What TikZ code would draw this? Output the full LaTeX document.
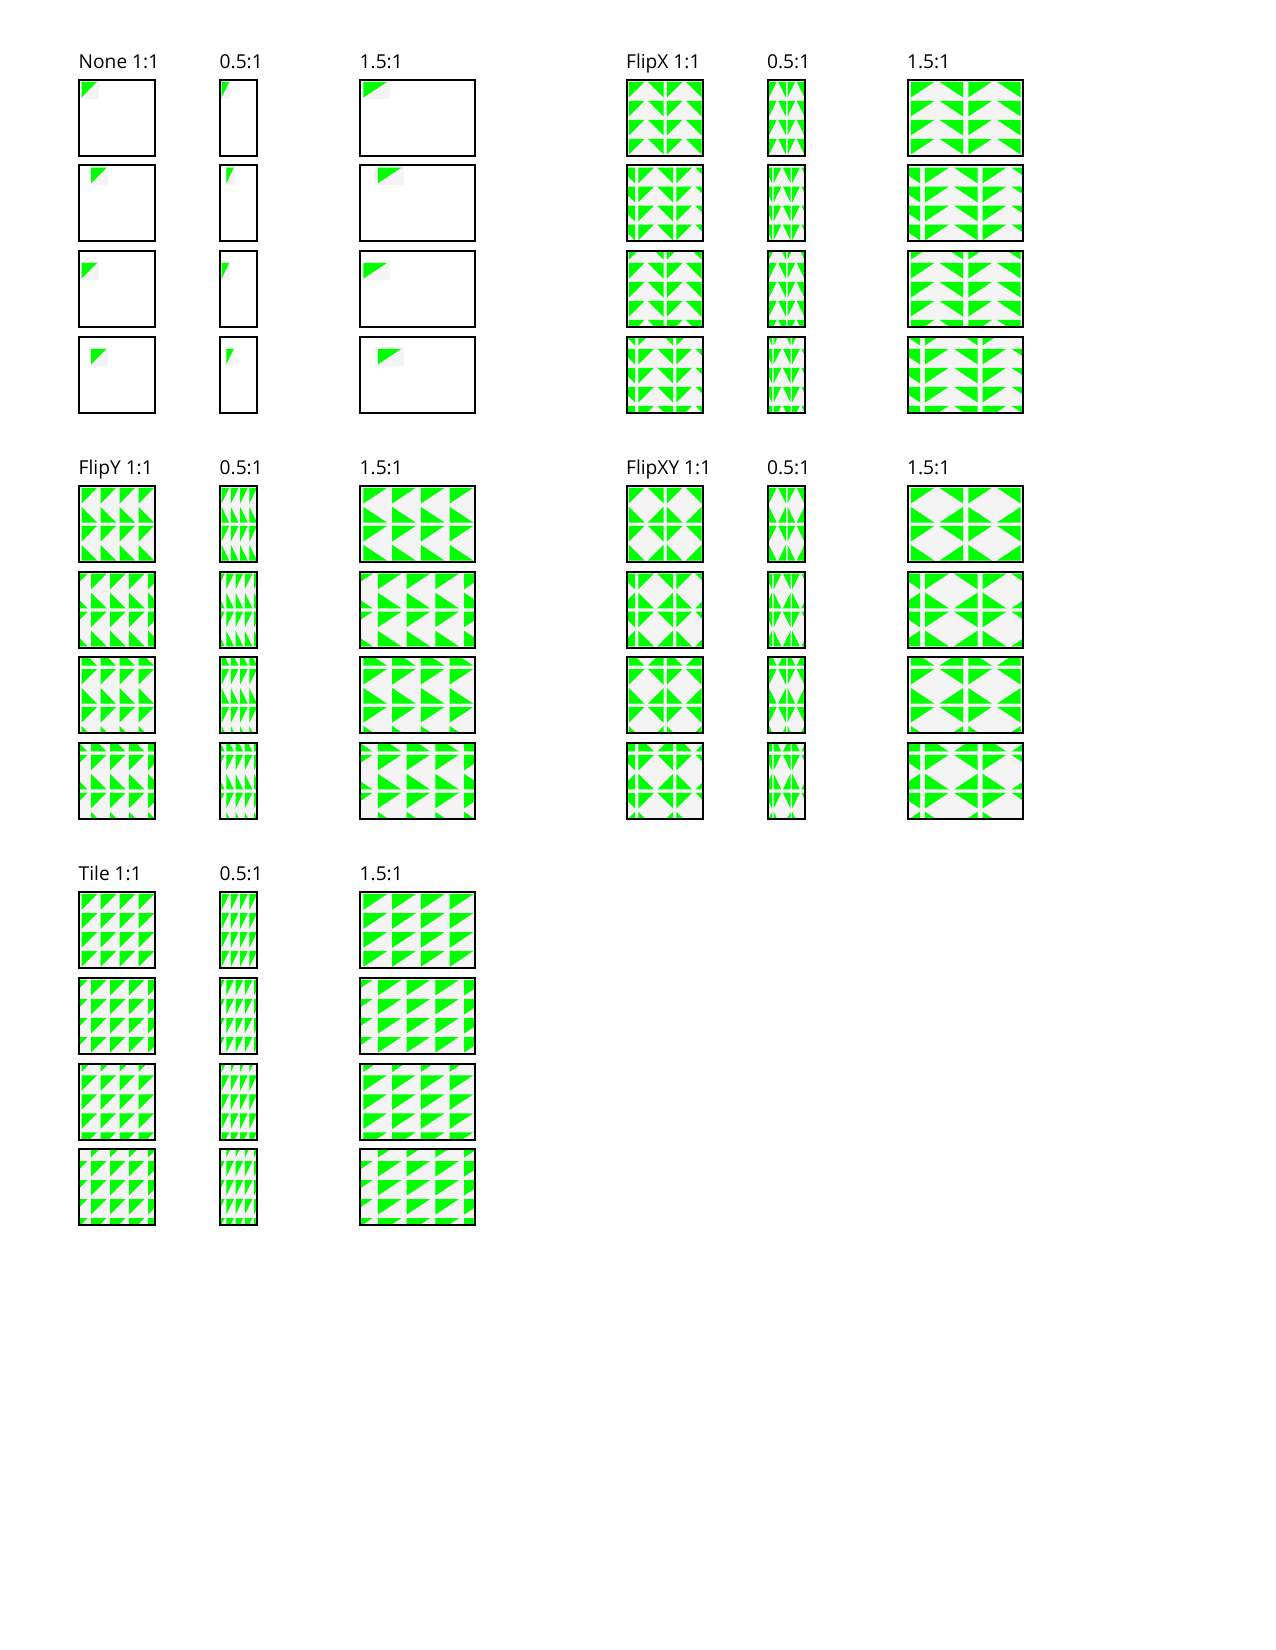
\documentclass[tikz,border=0pt]{standalone}
\usepackage{fontspec}
\setmainfont{Open Sans}
\usetikzlibrary{positioning}
\definecolor{tilegreen}{RGB}{0,255,0}
\definecolor{tilegray}{RGB}{244,244,244}
\tikzset{
  brushlabel/.style={anchor=base west,inner sep=0pt,font=\fontsize{9.2}{11}\selectfont},
  brushframe/.style={draw=black,line width=0.96pt},
  tileback/.style={fill=tilegray},
  tiletri/.style={fill=tilegreen}
}

\begin{document}
\begin{tikzpicture}[x=0.48pt,y=-0.48pt]
  \fill[white] (0,0) rectangle (1275,1650);
  \useasboundingbox (0,0) rectangle (1275,1650);
  %% One group per tile mode
  \foreach \tmode/\gx/\gy/\flx/\fly/\onlyone/\mname in {
      none/78.3/78.7/0/0/1/None, flipx/625.7/78.7/1/0/0/FlipX,
      flipy/78.3/484.7/0/1/0/FlipY, flipxy/625.7/484.7/1/1/0/FlipXY,
      tile/78.3/891/0/0/0/Tile}{
    \ifnum\onlyone=1 \def\irange{0}\else\def\irange{-1,...,4}\fi
    %% Columns: aspect ratios
    \foreach \col/\colx/\bw/\ratio in {0/0/76/1:1, 1/141/37/0.5:1, 2/281/115/1.5:1}{
      \node[brushlabel] (lab-\tmode-\col) at (\gx+\colx,\gy-10.4)
        {\ifnum\col=0 \mname\ \fi\ratio};
      \pgfmathsetmacro\tw{\bw/4}
      %% Rows: origin offsets
      \foreach \r in {0,...,3}{
        \pgfmathsetmacro\bx{\gx+\colx+1}
        \pgfmathsetmacro\by{\gy+\r*85.8+1}
        \pgfmathsetmacro\ox{mod(\r,2)*\tw/2+0.5}
        \pgfmathsetmacro\oy{(\r>1)*9.5+0.5}
        \begin{scope}
          \clip (\bx,\by) rectangle ++(\bw,76);
          \foreach \i in \irange{
            \foreach \j in \irange{
              \pgfmathsetmacro\tcx{\bx+\ox+(\i+0.5)*\tw}
              \pgfmathsetmacro\tcy{\by+\oy+(\j+0.5)*19}
              \pgfmathtruncatemacro\sx{1-2*\flx*mod(\i+2,2)}
              \pgfmathtruncatemacro\sy{1-2*\fly*mod(\j+2,2)}
              \begin{scope}[shift={(\tcx,\tcy)},xscale=\sx,yscale=\sy]
                \fill[tileback] (-\tw/2,-9.5) rectangle (\tw/2,9.5);
                \fill[tiletri] (-0.41*\tw,-7.8) -- (0.41*\tw,-7.8)
                  -- (-0.41*\tw,7.8) -- cycle;
              \end{scope}
            }
          }
        \end{scope}
        \draw[brushframe] (\bx,\by) rectangle ++(\bw,76);
      }
    }
  }
\end{tikzpicture}
\end{document}
